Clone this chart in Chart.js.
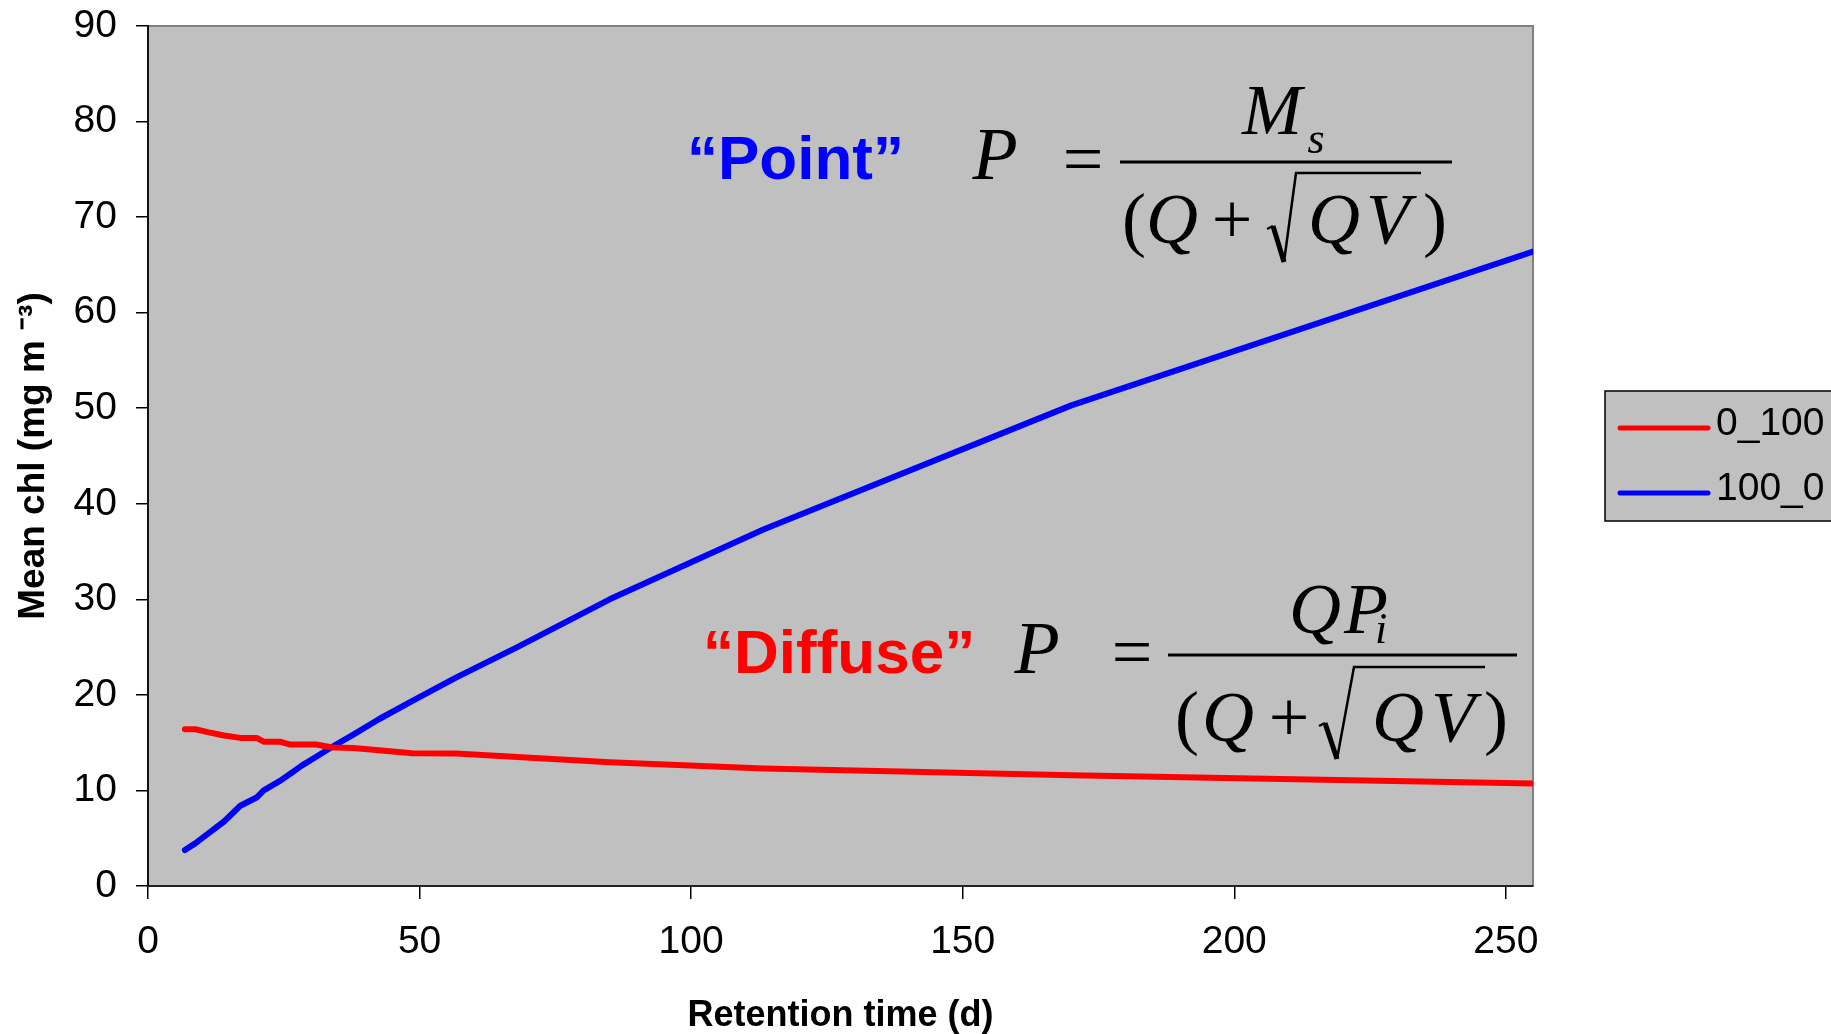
<!DOCTYPE html>
<html>
<head>
<meta charset="utf-8">
<script src="https://cdn.jsdelivr.net/npm/chart.js@4.4.1/dist/chart.umd.min.js"></script>
<style>
html,body{margin:0;padding:0;background:#fff;}
#wrap{width:1831px;height:1034px;position:relative;}
</style>
</head>
<body>
<div id="wrap"><canvas id="c" width="1831" height="1034"></canvas></div>
<script>
// ---- data ----
const retentionTime = [6.8, 8.7, 11, 14, 17, 18.9, 20, 21.3, 24.3, 26.2, 28.3, 30.9, 34, 37.8, 42.5, 48.6, 56.7, 68, 85, 113.3, 170, 255];
const series0_100 = [16.4, 16.4, 16.1, 15.75, 15.5, 15.5, 15.5, 15.1, 15.1, 14.8, 14.8, 14.8, 14.5, 14.45, 14.2, 13.9, 13.87, 13.5, 12.95, 12.3, 11.6, 10.73];
const series100_0 = [3.76, 4.46, 5.45, 6.75, 8.4, 8.95, 9.26, 10.0, 11.0, 11.75, 12.6, 13.5, 14.6, 15.85, 17.45, 19.35, 21.8, 25.0, 30.0, 37.3, 50.3, 66.4];
const seriesLabels = ['0_100', '100_0'];
const seriesColors = ['#FF0000', '#0000FF'];
const xTicks = [0, 50, 100, 150, 200, 250];
const yTicks = [0, 10, 20, 30, 40, 50, 60, 70, 80, 90];
const xTitle = 'Retention time (d)';
const yTitle = 'Mean chl (mg m \u207B\u00B3)';

const SANS = '"Liberation Sans", Arial, sans-serif';
const SERIF = '"Liberation Serif", "Times New Roman", serif';

function toPoints(xs, ys) { return xs.map((x, i) => ({ x: x, y: ys[i] })); }

const plotBg = {
  id: 'plotBg',
  beforeDraw(chart) {
    const { ctx, chartArea: a } = chart;
    ctx.save();
    ctx.fillStyle = '#C0C0C0';
    ctx.fillRect(a.left, a.top, a.right - a.left, a.bottom - a.top);
    ctx.strokeStyle = '#808080';
    ctx.lineWidth = 2;
    ctx.beginPath();
    ctx.moveTo(a.left, a.top);
    ctx.lineTo(a.right, a.top);
    ctx.lineTo(a.right, a.bottom);
    ctx.stroke();
    ctx.restore();
  }
};

const formulas = {
  id: 'formulas',
  afterDatasetsDraw(chart) {
    const ctx = chart.ctx;
    ctx.save();
    ctx.textBaseline = 'alphabetic';
    const it = s => 'italic ' + s + 'px ' + SERIF;
    const up = s => s + 'px ' + SERIF;
    function txt(t, x, y, font, align) {
      ctx.font = font; ctx.textAlign = align || 'center'; ctx.fillText(t, x, y);
    }
    function radical(x0, y0, xb, yb, xa, ya, xe) {
      ctx.lineJoin = 'miter';
      ctx.lineWidth = 2.5;
      ctx.beginPath();
      ctx.moveTo(x0, y0 + 3);
      ctx.lineTo(x0 + 6, y0);
      ctx.stroke();
      ctx.lineWidth = 5;
      ctx.beginPath();
      ctx.moveTo(x0 + 6, y0);
      ctx.lineTo(xb, yb);
      ctx.stroke();
      ctx.lineWidth = 2.5;
      ctx.beginPath();
      ctx.moveTo(xb, yb);
      ctx.lineTo(xa, ya);
      ctx.lineTo(xe, ya);
      ctx.stroke();
    }
    // "Point"
    ctx.fillStyle = '#0000FF';
    txt('\u201CPoint\u201D', 687, 179, 'bold 62px ' + SANS, 'left');
    ctx.fillStyle = '#000';
    ctx.strokeStyle = '#000';
    txt('P', 995, 179, it(74));
    txt('=', 1083, 183, up(72));
    ctx.fillRect(1120, 160.5, 332, 3);
    txt('M', 1272, 134, it(72));
    txt('s', 1316, 153, it(44));
    txt('(', 1134, 243, up(72));
    txt('Q', 1172, 243, it(72));
    txt('+', 1232, 243, up(72));
    radical(1267, 226, 1284, 262, 1296, 173, 1421);
    txt('Q', 1334, 243, it(72));
    txt('V', 1388, 243, it(72));
    txt(')', 1435, 243, up(72));
    // "Diffuse"
    ctx.fillStyle = '#FF0000';
    txt('\u201CDiffuse\u201D', 703, 673, 'bold 62px ' + SANS, 'left');
    ctx.fillStyle = '#000';
    txt('P', 1037, 673, it(74));
    txt('=', 1132, 676, up(72));
    ctx.fillRect(1168, 653.5, 349, 3);
    txt('Q', 1315, 633, it(72));
    txt('P', 1366, 633, it(72));
    txt('i', 1381, 643, it(44));
    txt('(', 1187, 741, up(72));
    txt('Q', 1228, 741, it(72));
    txt('+', 1289, 741, up(72));
    radical(1319, 723, 1337, 759, 1354, 667, 1485);
    txt('Q', 1398, 741, it(72));
    txt('V', 1453, 741, it(72));
    txt(')', 1496, 741, up(72));
    ctx.restore();
  }
};

const sideLegend = {
  id: 'sideLegend',
  afterDraw(chart) {
    const ctx = chart.ctx;
    ctx.save();
    ctx.fillStyle = '#C0C0C0';
    ctx.fillRect(1605, 391, 240, 130);
    ctx.strokeStyle = '#000';
    ctx.lineWidth = 1.5;
    ctx.strokeRect(1605, 391, 240, 130);
    const rows = [428, 493];
    chart.data.datasets.forEach((ds, i) => {
      const y = rows[i];
      ctx.strokeStyle = ds.borderColor;
      ctx.lineWidth = 5;
      ctx.lineCap = 'round';
      ctx.beginPath();
      ctx.moveTo(1620, y);
      ctx.lineTo(1708, y);
      ctx.stroke();
      ctx.fillStyle = '#000';
      ctx.font = '39px ' + SANS;
      ctx.textAlign = 'left';
      ctx.textBaseline = 'middle';
      ctx.fillText(ds.label, 1716, y - 4);
    });
    ctx.restore();
  }
};

new Chart(document.getElementById('c'), {
  type: 'line',
  data: {
    datasets: [
      { label: seriesLabels[0], data: toPoints(retentionTime, series0_100), borderColor: seriesColors[0], backgroundColor: seriesColors[0] },
      { label: seriesLabels[1], data: toPoints(retentionTime, series100_0), borderColor: seriesColors[1], backgroundColor: seriesColors[1] }
    ]
  },
  options: {
    responsive: false,
    animation: false,
    devicePixelRatio: 1,
    layout: { padding: { top: 26, right: 298, left: 0, bottom: 0 } },
    elements: {
      line: { borderWidth: 6, tension: 0, borderCapStyle: 'round', borderJoinStyle: 'round', fill: false },
      point: { radius: 0, hoverRadius: 0 }
    },
    plugins: {
      legend: { display: false },
      tooltip: { enabled: false }
    },
    scales: {
      x: {
        type: 'linear',
        min: 0, max: 255,
        afterBuildTicks: s => { s.ticks = xTicks.map(v => ({ value: v })); },
        afterFit: s => { s.height = 148; s.paddingLeft = 0; s.paddingRight = 0; },
        ticks: { color: '#000', font: { family: SANS, size: 39 }, padding: 20, maxRotation: 0 },
        grid: { drawOnChartArea: false, drawTicks: true, tickLength: 13, color: '#000', lineWidth: 1.5 },
        border: { display: true, color: '#222', width: 2 },
        title: { display: true, text: xTitle, color: '#000', font: { family: SANS, size: 36, weight: 'bold', lineHeight: 1.0 }, padding: { top: 0, bottom: 0 } }
      },
      y: {
        type: 'linear',
        min: 0, max: 90,
        afterBuildTicks: s => { s.ticks = yTicks.map(v => ({ value: v })); },
        afterFit: s => { s.width = 148; s.paddingTop = 0; s.paddingBottom = 0; },
        ticks: { color: '#000', font: { family: SANS, size: 39 }, padding: 19 },
        grid: { drawOnChartArea: false, drawTicks: true, tickLength: 12, color: '#000', lineWidth: 1.5 },
        border: { display: true, color: '#111', width: 2 },
        title: { display: true, text: yTitle, color: '#000', font: { family: SANS, size: 37, weight: 'bold' }, padding: { top: 12, bottom: 0 } }
      }
    }
  },
  plugins: [plotBg, formulas, sideLegend]
});
</script>
</body>
</html>
